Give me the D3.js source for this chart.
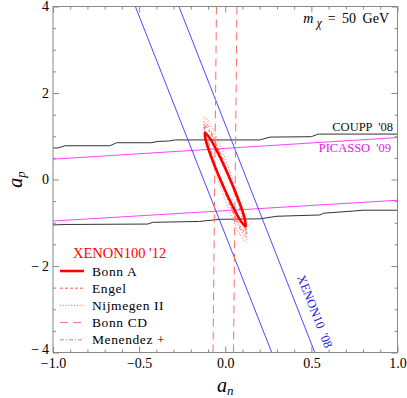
<!DOCTYPE html>
<html><head><meta charset="utf-8">
<script src="https://cdn.jsdelivr.net/npm/d3@7"></script>
<style>
body{margin:0;background:#fff;}
svg{display:block;}
svg text{font-family:"Liberation Serif","DejaVu Serif",serif !important;}
</style></head>
<body><svg id="c" width="407" height="398"></svg>
<script>
// ---- data ----
const xMajor = [-1.0, -0.5, 0.0, 0.5, 1.0];
const xMajorLabels = ["\u22121.0", "\u22120.5", "0.0", "0.5", "1.0"];
const yMajor = [-4, -2, 0, 2, 4];
const yMajorLabels = ["\u2212\u20094", "\u2212\u20092", "0", "2", "4"];
const xMinor = [-0.9,-0.8,-0.7,-0.6,-0.4,-0.3,-0.2,-0.1,0.1,0.2,0.3,0.4,0.6,0.7,0.8,0.9];
const yMinor = [-3.5,-3,-2.5,-1.5,-1,-0.5,0.5,1,1.5,2.5,3,3.5];

const couppUpper = [[-1,0.73],[-0.97,0.73],[-0.93,0.78],[-0.67,0.78],[-0.63,0.85],[-0.43,0.85],[-0.39,0.88],[-0.33,0.89],[-0.29,0.915],[0.2,0.915],[0.26,0.98],[0.5,0.99],[0.54,1.05],[1,1.05]];
const couppLower = [[-1,-1.05],[-0.92,-1.04],[-0.45,-1.03],[-0.42,-0.99],[-0.15,-0.97],[-0.03,-0.92],[0.2,-0.91],[0.3,-0.85],[0.55,-0.82],[0.57,-0.78],[0.74,-0.73],[0.8,-0.71],[1,-0.71]];
const picassoUpper = [[-1,0.47],[1,0.97]];
const picassoLower = [[-1,-0.96],[1,-0.48]];
const xenon10Left = [[-0.522,4],[0.27,-4]];
const xenon10Right = [[-0.269,4],[0.52,-4]];
const bonnCDLeft = [[-0.051,4],[-0.071,-4]];
const bonnCDRight = [[0.068,4],[0.048,-4]];
const bonnA = [[0.118,-1.083],[0.114,-0.917],[0.080,-0.505],[0.024,0.042],[-0.038,0.578],[-0.090,0.959],[-0.118,1.083],[-0.114,0.917],[-0.080,0.505],[-0.024,-0.042],[0.038,-0.578],[0.090,-0.959]];
const engel = [[0.120,-1.250],[0.118,-1.063],[0.084,-0.590],[0.028,0.040],[-0.036,0.660],[-0.090,1.103],[-0.120,1.250],[-0.118,1.063],[-0.084,0.590],[-0.028,-0.040],[0.036,-0.660],[0.090,-1.103]];
const nijmegen = [[0.122,-1.447],[0.125,-1.228],[0.094,-0.679],[0.038,0.051],[-0.028,0.768],[-0.087,1.279],[-0.122,1.447],[-0.125,1.228],[-0.094,0.679],[-0.038,-0.051],[0.028,-0.768],[0.087,-1.279]];
const menendez = [[0.118,-1.330],[0.114,-1.134],[0.080,-0.634],[0.024,0.036],[-0.038,0.696],[-0.090,1.170],[-0.118,1.330],[-0.114,1.134],[-0.080,0.634],[-0.024,-0.036],[0.038,-0.696],[0.090,-1.170]];

const legendNames = ["Bonn  A", "Engel", "Nijmegen  II", "Bonn  CD", "Menendez +"];

// ---- styles ----
const st = {
  bonnA: {stroke:"#ff0000", width:2.6, dash:null},
  engel: {stroke:"#ff5a5a", width:1, dash:"3,2"},
  nijmegen: {stroke:"#ff8c8c", width:1.2, dash:"1,1.8"},
  bonnCD: {stroke:"#ff6a6a", width:1, dash:"8,5"},
  menendez: {stroke:"#ff7070", width:1, dash:"4,2,1,2"}
};
const legendStyles = [st.bonnA, st.engel, st.nijmegen, st.bonnCD, st.menendez];

const svg = d3.select("#c");
const L = 53, R = 397.5, T = 6.5, B = 352.5;
const x = d3.scaleLinear().domain([-1,1]).range([L,R]);
const y = d3.scaleLinear().domain([-4,4]).range([B,T]);

svg.append("defs").append("clipPath").attr("id","clip")
  .append("rect").attr("x",L).attr("y",T).attr("width",R-L).attr("height",B-T);

const plot = svg.append("g").attr("clip-path","url(#clip)");
const line = d3.line().x(d=>x(d[0])).y(d=>y(d[1]));
const closed = d3.line().x(d=>x(d[0])).y(d=>y(d[1])).curve(d3.curveCatmullRomClosed.alpha(0.5));

function path(g, data, gen, s){
  const p = g.append("path").datum(data).attr("d",gen).attr("fill","none")
    .attr("stroke",s.stroke).attr("stroke-width",s.width);
  if (s.dash) p.attr("stroke-dasharray",s.dash);
  return p;
}

// bands
path(plot, picassoUpper, line, {stroke:"#ff40ff",width:1});
path(plot, picassoLower, line, {stroke:"#ff40ff",width:1});
path(plot, couppUpper, line, {stroke:"#333",width:1});
path(plot, couppLower, line, {stroke:"#333",width:1});
path(plot, xenon10Left, line, {stroke:"#4a4aff",width:1});
path(plot, xenon10Right, line, {stroke:"#4a4aff",width:1});
path(plot, bonnCDLeft, line, st.bonnCD);
path(plot, bonnCDRight, line, st.bonnCD);
path(plot, nijmegen, closed, st.nijmegen);
path(plot, menendez, closed, st.menendez);
path(plot, engel, closed, st.engel);
path(plot, bonnA, closed, st.bonnA);

// frame
svg.append("rect").attr("x",L).attr("y",T).attr("width",R-L).attr("height",B-T)
  .attr("fill","none").attr("stroke","#888").attr("stroke-width",1);

// axes
function styleAxis(g){
  g.select(".domain").remove();
  g.selectAll(".tick line").attr("stroke","#888");
  g.selectAll(".tick text").attr("fill","#000").attr("font-size",14);
}
svg.append("g").attr("transform",`translate(0,${B})`)
  .call(d3.axisBottom(x).tickValues(xMajor).tickSize(-6).tickPadding(6)
    .tickFormat((d,i)=>xMajorLabels[i])).call(styleAxis);
svg.append("g").attr("transform",`translate(0,${B})`)
  .call(d3.axisBottom(x).tickValues(xMinor).tickSize(-3).tickFormat("")).call(styleAxis);
svg.append("g").attr("transform",`translate(0,${T})`)
  .call(d3.axisTop(x).tickValues(xMajor).tickSize(-6).tickFormat("")).call(styleAxis);
svg.append("g").attr("transform",`translate(0,${T})`)
  .call(d3.axisTop(x).tickValues(xMinor).tickSize(-3).tickFormat("")).call(styleAxis);
const yAx = svg.append("g").attr("transform",`translate(${L},0)`)
  .call(d3.axisLeft(y).tickValues(yMajor).tickSize(-6).tickPadding(4)
    .tickFormat((d,i)=>yMajorLabels[i])).call(styleAxis);
yAx.selectAll(".tick text").filter(d=>d===-4).attr("dy","0.1em");
svg.append("g").attr("transform",`translate(${L},0)`)
  .call(d3.axisLeft(y).tickValues(yMinor).tickSize(-3).tickFormat("")).call(styleAxis);
svg.append("g").attr("transform",`translate(${R},0)`)
  .call(d3.axisRight(y).tickValues(yMajor).tickSize(-6).tickFormat("")).call(styleAxis);
svg.append("g").attr("transform",`translate(${R},0)`)
  .call(d3.axisRight(y).tickValues(yMinor).tickSize(-3).tickFormat("")).call(styleAxis);

// axis titles
const xt = svg.append("text").attr("x",x(0)).attr("y",392).attr("text-anchor","middle")
  .attr("font-size",20).attr("font-style","italic");
xt.append("tspan").text("a");
xt.append("tspan").attr("font-size",13).attr("dy",3).text("n");
const yt = svg.append("text").attr("transform",`translate(22,${y(0)}) rotate(-90)`)
  .attr("text-anchor","middle").attr("font-size",20).attr("font-style","italic");
yt.append("tspan").text("a");
yt.append("tspan").attr("font-size",13).attr("dy",3).text("p");

// mass label
const mt = svg.append("text").attr("x",389).attr("y",23).attr("text-anchor","end").attr("font-size",14);
mt.append("tspan").attr("font-style","italic").text("m");
mt.append("tspan").attr("font-style","italic").attr("font-size",12).attr("dx",3).attr("dy",4).text("\u03c7");
mt.append("tspan").attr("dy",-4).attr("dx",6).attr("word-spacing",3).text("= 50 GeV");

// band labels
svg.append("text").attr("x",393).attr("y",131).attr("text-anchor","end").attr("font-size",12.5)
  .attr("fill","#111").attr("word-spacing",3).text("COUPP '08");
svg.append("text").attr("x",391).attr("y",152).attr("text-anchor","end").attr("font-size",12.5)
  .attr("fill","#e020e0").attr("word-spacing",3).text("PICASSO '09");
svg.append("text").attr("transform",`translate(311,313) rotate(68.5)`).attr("text-anchor","middle")
  .attr("font-size",12.5).attr("fill","#2020e0").attr("word-spacing",3).text("XENON10 '08");

// legend
svg.append("text").attr("x",73).attr("y",258).attr("font-size",14.5).attr("fill","#ff0000")
  .text("XENON100 '12");
const lg = svg.append("g");
legendNames.forEach((n,i)=>{
  const yy = 271 + i*17.2;
  const s = legendStyles[i];
  const l = lg.append("line").attr("x1",60).attr("x2",84).attr("y1",yy).attr("y2",yy)
    .attr("stroke",s.stroke).attr("stroke-width",s.width);
  if (s.dash) l.attr("stroke-dasharray",s.dash);
  lg.append("text").attr("x",92).attr("y",yy+4.5).attr("font-size",13.5)
    .attr("letter-spacing",0.6).text(n);
});
</script></body></html>
